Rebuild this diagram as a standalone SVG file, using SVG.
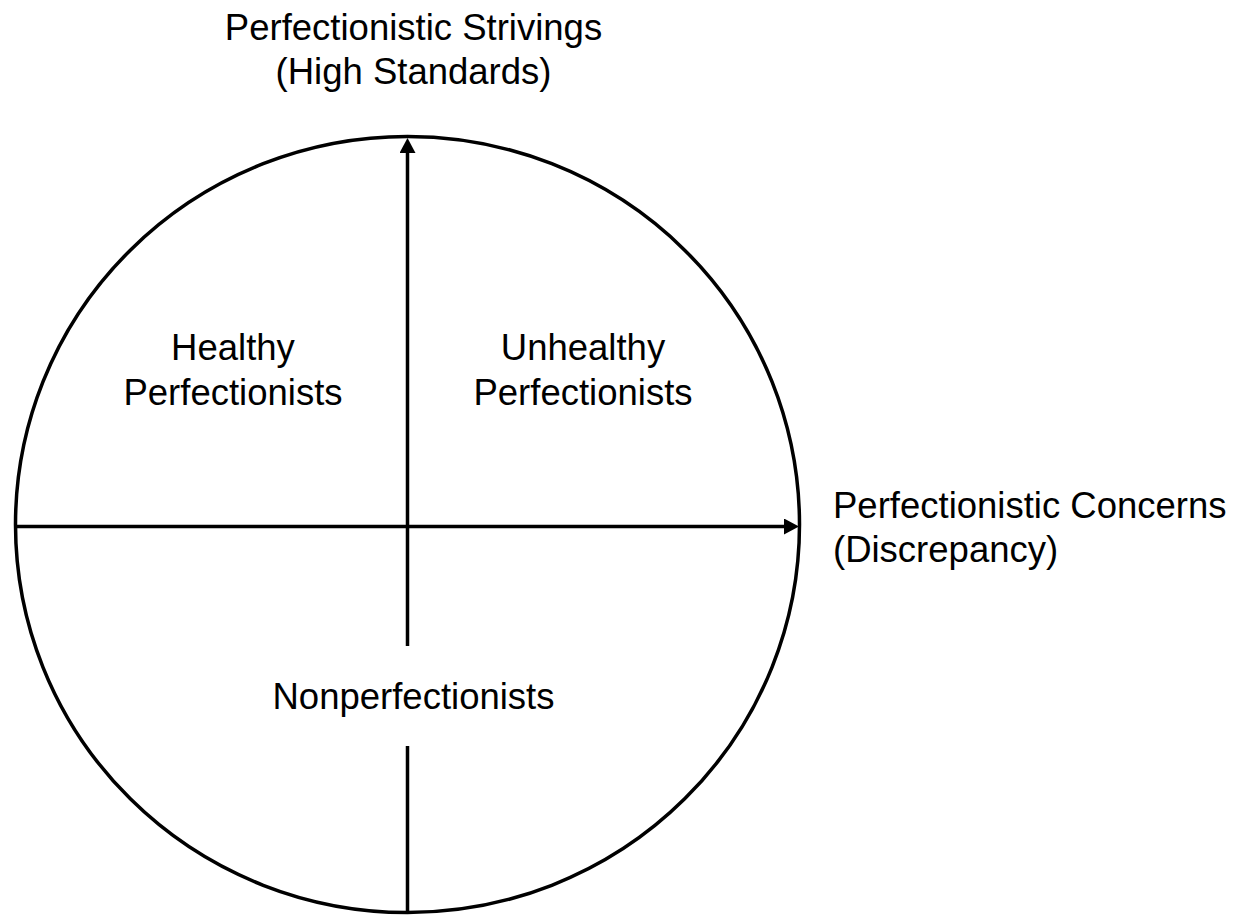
<svg xmlns="http://www.w3.org/2000/svg" width="1243" height="916" viewBox="0 0 1243 916">
  <style>
    .axis { stroke: #000; stroke-width: 3.5; fill: none; }
    .ring { stroke: #000; stroke-width: 3.5; fill: none; }
    .lbl { font-family: "Liberation Sans", Arial, sans-serif; font-size: 36.5px; fill: #000; }
    .mid { text-anchor: middle; }
  </style>
  <defs>
    <marker id="arrow" markerUnits="userSpaceOnUse" markerWidth="16" markerHeight="16" refX="0" refY="8" orient="auto">
      <path d="M0,0 L15,8 L0,16 z" fill="#000"/>
    </marker>
  </defs>
  <rect width="1243" height="916" fill="#fff"/>

  <!-- outer boundary -->
  <g id="circle">
    <ellipse class="ring" cx="407.5" cy="524.5" rx="392" ry="388"/>
  </g>

  <!-- axes -->
  <g id="connectors">
    <line class="axis" x1="15" y1="526.5" x2="784" y2="526.5" marker-end="url(#arrow)"/>
    <line class="axis" x1="407.5" y1="646" x2="407.5" y2="153" marker-end="url(#arrow)"/>
    <line class="axis" x1="407.5" y1="912" x2="407.5" y2="746"/>
  </g>

  <g id="label-strivings">
    <text class="lbl mid" x="413.5" y="40">Perfectionistic Strivings</text>
    <text class="lbl mid" x="413.5" y="84">(High Standards)</text>
  </g>

  <g id="label-concerns">
    <text class="lbl" x="833" y="518">Perfectionistic Concerns</text>
    <text class="lbl" x="833" y="562">(Discrepancy)</text>
  </g>

  <g id="healthy">
    <text class="lbl mid" x="233" y="360">Healthy</text>
    <text class="lbl mid" x="233" y="404.5">Perfectionists</text>
  </g>

  <g id="unhealthy">
    <text class="lbl mid" x="583" y="360">Unhealthy</text>
    <text class="lbl mid" x="583" y="404.5">Perfectionists</text>
  </g>

  <g id="nonperfectionists">
    <text class="lbl mid" x="413.5" y="708.5">Nonperfectionists</text>
  </g>
</svg>
